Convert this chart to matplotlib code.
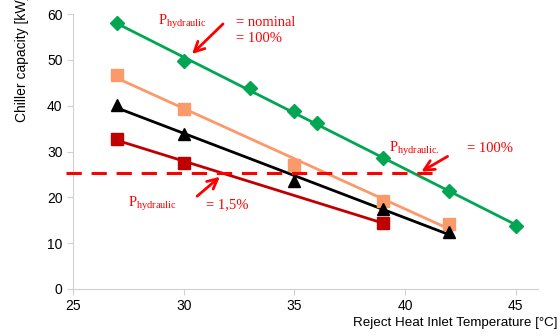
import numpy as np
import matplotlib
matplotlib.use("Agg")
import matplotlib.pyplot as plt

# 冷水机组容量 vs 排热入口温度, 四个水力功率等级
t_green = [27, 30, 33, 35, 36, 39, 42, 45]
q_green = [58.0, 49.7, 43.8, 38.8, 36.2, 28.5, 21.3, 13.8]
t_orange = [27, 30, 35, 39, 42]
q_orange = [46.8, 39.3, 27.0, 19.2, 14.2]
t_black = [27, 30, 35, 39, 42]
q_black = [40.2, 33.8, 23.5, 17.4, 12.5]
t_red = [27, 30, 39]
q_red = [32.8, 27.4, 14.5]
LIMIT_Q = 25.3  # 虚线: 容量下限
LIMIT_T = [24.7, 41.6]

GREEN = "#00A651"
ORANGE = "#FA9A6A"
DARKRED = "#C00000"
RED = "#FF0000"

fig = plt.figure(figsize=(5.6, 3.36), dpi=100)
ax = fig.add_axes([73 / 560, 1 - 289 / 336, (538 - 73) / 560, (289 - 14) / 336])

series = [
    (t_green, q_green, GREEN, "D", 7.5),
    (t_orange, q_orange, ORANGE, "s", 9),
    (t_black, q_black, "black", "^", 8.5),
    (t_red, q_red, DARKRED, "s", 9),
]
for t, q, c, m, ms in series:
    # 线性趋势线 + 数据点
    k, b = np.polyfit(t, q, 1)
    tt = np.array([min(t), max(t)])
    ax.plot(tt, k * tt + b, color=c, lw=2, zorder=2)
    ax.plot(t, q, ls="none", marker=m, ms=ms, color=c, mec=c, zorder=3)

ax.plot(LIMIT_T, [LIMIT_Q, LIMIT_Q], color=RED, lw=2.2, ls=(0, (5, 3.2)),
        clip_on=False, zorder=4)

ax.set_xlim(25, 46)
ax.set_ylim(0, 60)
ax.set_xticks([25, 30, 35, 40, 45])
ax.set_yticks(range(0, 61, 10))
for s in ["top", "right"]:
    ax.spines[s].set_visible(False)
for s in ["left", "bottom"]:
    ax.spines[s].set_color("#D0D0D0")
ax.tick_params(colors="#D0D0D0", labelcolor="black", labelsize=10, length=4)
for lab in ax.get_xticklabels() + ax.get_yticklabels():
    lab.set_family("Liberation Sans")

fig.text(22 / 560, 1 - 122 / 336, "Chiller capacity [kW]", rotation=90,
         ha="center", va="bottom", fontsize=10, family="Liberation Sans")
fig.text(353 / 560, 1 - 323 / 336, "Reject Heat Inlet Temperature [°C]",
         ha="left", va="center", fontsize=9.6, family="Liberation Sans")

# 红色标注
serif = dict(color=RED, family="Liberation Serif", fontsize=10.5, transform=fig.transFigure)


def px(x, y):
    return x / 560, 1 - y / 336


ax.text(*px(158, 22), r"P$_{\mathregular{hydraulic}}$", va="center", **serif)
ax.text(*px(236, 23), "= nominal", va="center", **serif)
ax.text(*px(236, 39), "= 100%", va="center", **serif)
ax.text(*px(389, 149), r"P$_{\mathregular{hydraulic.}}$", va="center", **serif)
ax.text(*px(467, 149), "= 100%", va="center", **serif)
ax.text(*px(128, 204), r"P$_{\mathregular{hydraulic}}$", va="center", **serif)
ax.text(*px(206, 205), "= 1,5%", va="center", **serif)

arrow = dict(arrowstyle="->", color=RED, lw=2, mutation_scale=18)
for start, end in [((225, 22), (190, 56)), ((450, 155), (419, 173)),
                   ((195, 198), (222, 175))]:
    ax.annotate("", xy=px(*end), xytext=px(*start), xycoords="figure fraction",
                textcoords="figure fraction", arrowprops=arrow)

fig.savefig("out.png", dpi=100)
